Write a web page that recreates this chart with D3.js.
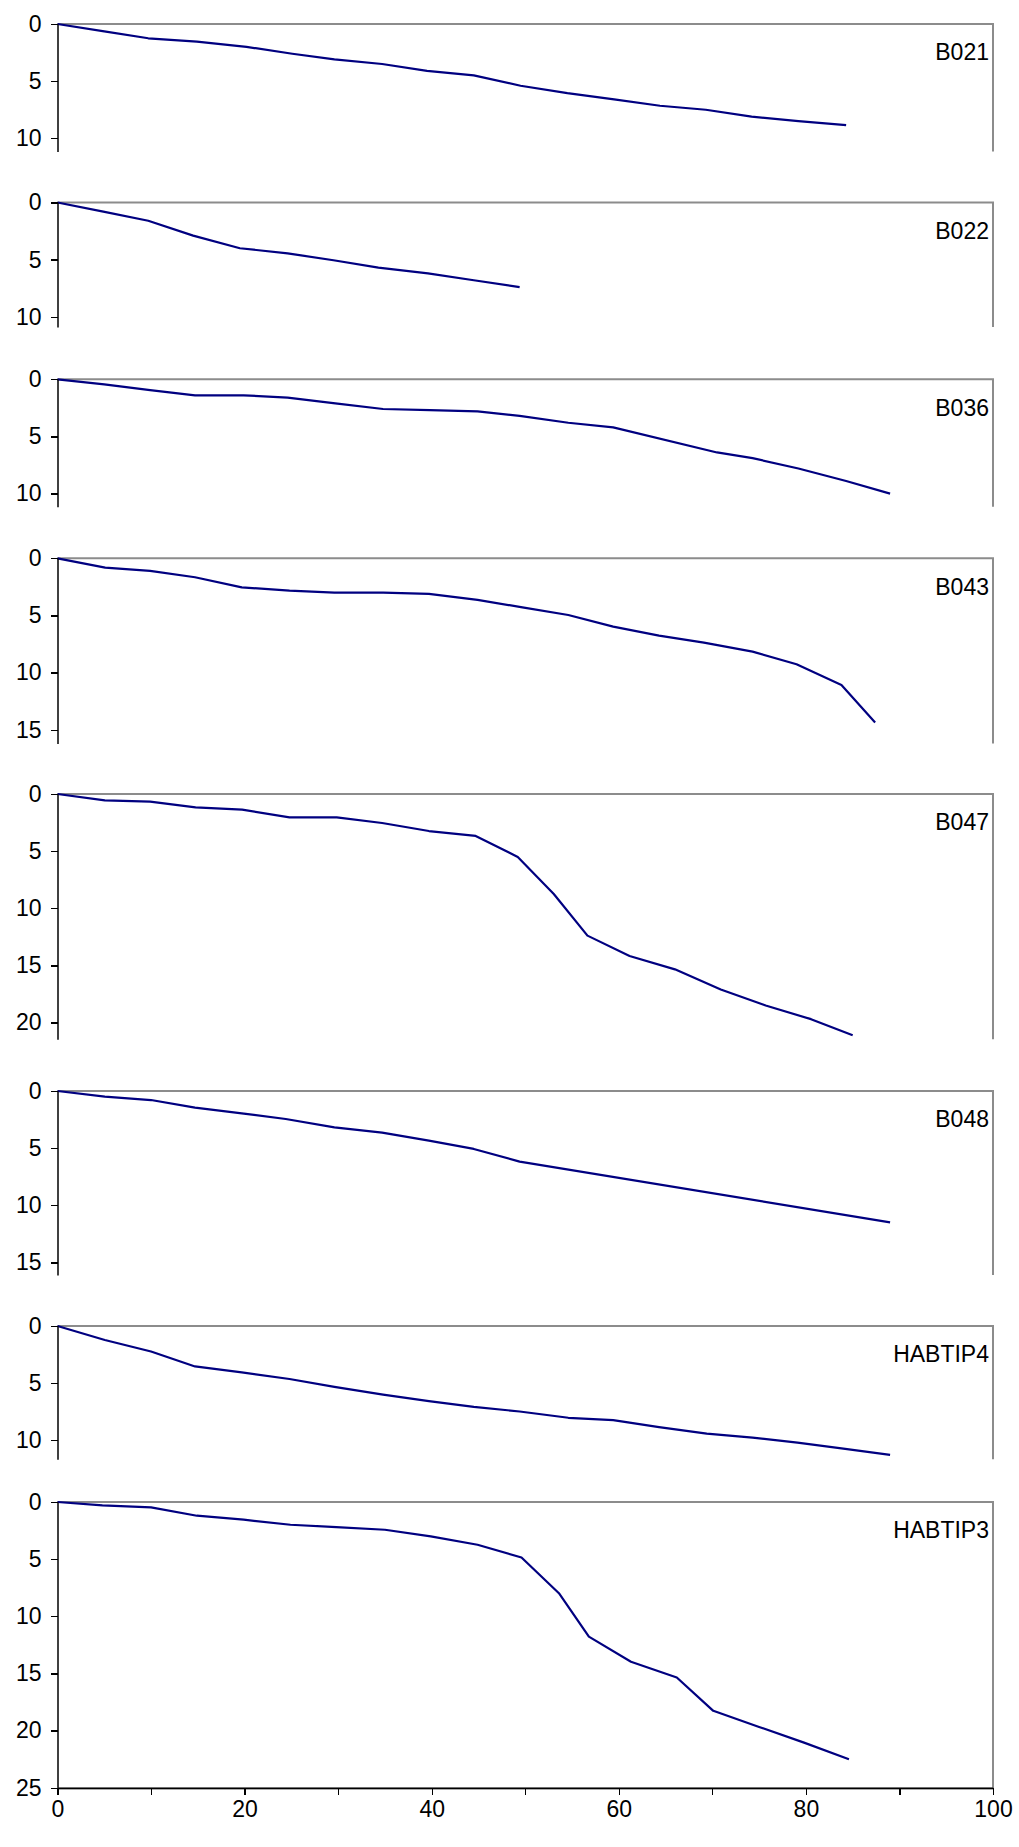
<!DOCTYPE html>
<meta charset="utf-8">
<style type="text/css">
  body {
    margin: 0;
    background: #fff;
    font-family: "Liberation Sans", Arial, sans-serif;
  }

  .y.axis .domain {
    stroke: #000;
    stroke-width: 1.5px;
  }

  .axis line {
    stroke: #000;
    stroke-width: 1.3px;
    shape-rendering: crispEdges;
  }

  .axis text {
    font-family: "Liberation Sans", Arial, sans-serif;
    font-size: 23px;
    fill: #000;
  }

  .x.axis .domain {
    stroke: #000;
    stroke-width: 1.5px;
  }

  .frame {
    stroke: #8c8c8c;
    stroke-width: 2px;
    fill: none;
  }

  .line {
    stroke: #000080;
    stroke-width: 2.2px;
    fill: none;
    stroke-linejoin: round;
  }

  .panel-label {
    font-family: "Liberation Sans", Arial, sans-serif;
    font-size: 23px;
    fill: #000;
  }
</style>

<body>
<div class="g-chart"></div>
</body>

<script src="https://d3js.org/d3.v7.min.js"></script>

<script>
  //series names, top to bottom
  var names = ["B021", "B022", "B036", "B043", "B047", "B048", "HABTIP4", "HABTIP3"];

  //x values (percent) and y values for every series
  var b021X = [0, 5, 9.7, 14.9, 20.2, 25.1, 29.6, 34.7, 39.5, 44.5, 49.5, 54.5, 59.5, 64.4, 69.3, 74.2, 79.2, 84.3];
  var b021Y = [0, 0.65, 1.25, 1.55, 2.0, 2.6, 3.1, 3.5, 4.1, 4.5, 5.4, 6.05, 6.6, 7.15, 7.5, 8.1, 8.5, 8.85];

  var b022X = [0, 4.9, 9.7, 14.5, 19.5, 24.6, 29.5, 34.3, 39.6, 44.5, 49.4];
  var b022Y = [0, 0.8, 1.6, 2.9, 4.0, 4.45, 5.05, 5.7, 6.2, 6.8, 7.4];

  var b036X = [0, 5, 9.9, 14.7, 19.9, 24.6, 29.7, 34.8, 39.8, 44.9, 49.4, 54.6, 59.4, 70.5, 74.3, 79.2, 84.3, 89];
  var b036Y = [0, 0.45, 0.95, 1.4, 1.4, 1.6, 2.1, 2.6, 2.7, 2.8, 3.2, 3.8, 4.2, 6.4, 6.9, 7.8, 8.9, 10.0];

  var b043X = [0, 5.1, 9.9, 14.7, 19.7, 24.8, 29.6, 34.8, 39.7, 44.9, 49.7, 54.6, 59.4, 64.3, 69.1, 74.3, 79, 83.8, 87.4];
  var b043Y = [0, 0.82, 1.1, 1.66, 2.54, 2.83, 3.0, 3.0, 3.12, 3.64, 4.29, 4.96, 5.98, 6.76, 7.38, 8.16, 9.27, 11.08, 14.37];

  var b047X = [0, 5.06, 9.9, 14.76, 19.74, 24.8, 29.85, 34.7, 39.7, 44.7, 49.2, 53.05, 56.65, 61.15, 66, 70.9, 75.7, 80.55, 85.0];
  var b047Y = [0, 0.55, 0.67, 1.17, 1.37, 2.04, 2.04, 2.54, 3.24, 3.67, 5.51, 8.75, 12.39, 14.17, 15.34, 17.1, 18.5, 19.7, 21.1];

  var b048X = [0, 5.06, 10, 14.7, 19.7, 24.4, 29.6, 34.7, 39.7, 44.5, 49.4, 89];
  var b048Y = [0, 0.5, 0.79, 1.46, 1.95, 2.45, 3.18, 3.64, 4.34, 5.07, 6.18, 11.49];

  var habtip4X = [0, 5.06, 10, 14.7, 19.7, 24.8, 29.6, 34.8, 39.7, 44.5, 49.4, 54.6, 59.4, 64.3, 69.4, 74.3, 79.1, 83.8, 89];
  var habtip4Y = [0, 1.22, 2.23, 3.54, 4.06, 4.64, 5.33, 6.0, 6.58, 7.07, 7.48, 8.03, 8.23, 8.84, 9.42, 9.77, 10.2, 10.7, 11.28];

  var habtip3X = [0, 4.8, 10, 14.9, 19.9, 24.9, 29.8, 35, 39.9, 44.9, 49.6, 53.6, 56.8, 61.3, 66.2, 70.1, 75, 79.8, 84.6];
  var habtip3Y = [0, 0.29, 0.47, 1.2, 1.55, 1.99, 2.19, 2.43, 3.01, 3.74, 4.85, 7.98, 11.78, 13.98, 15.35, 18.27, 19.68, 21.05, 22.51];

  var seriesX = [b021X, b022X, b036X, b043X, b047X, b048X, habtip4X, habtip3X];
  var seriesY = [b021Y, b022Y, b036Y, b043Y, b047Y, b048Y, habtip4Y, habtip3Y];

  //tick labels
  var yTicks = [
    [0, 5, 10], [0, 5, 10], [0, 5, 10], [0, 5, 10, 15],
    [0, 5, 10, 15, 20], [0, 5, 10, 15], [0, 5, 10], [0, 5, 10, 15, 20, 25]
  ];
  var xTicks = [0, 10, 20, 30, 40, 50, 60, 70, 80, 90, 100];
  var xLabels = [0, 20, 40, 60, 80, 100];

  //Layout: each panel is cut off by the one below it
  var width = 1019, height = 1847;
  var left = 57.5, right = 993;
  var unit = 11.43;                       //px per y unit
  var panelTop = [24, 202.5, 379.3, 558.3, 794, 1091, 1326, 1502];
  var panelSpan = [11.15, 10.9, 11.15, 16.2, 21.45, 16.1, 11.65, 25];

  var svg = d3.select(".g-chart").append("svg")
    .attr("width", width)
    .attr("height", height);

  //shared x scale
  var xScale = d3.scaleLinear()
    .domain([0, 100])
    .range([left, right]);

  names.forEach(function(name, i) {
    var top = panelTop[i];
    var yScale = d3.scaleLinear()
      .domain([0, panelSpan[i]])
      .range([top, top + panelSpan[i] * unit]);

    var g = svg.append("g").attr("class", "panel");

    //plot area border (top and right)
    g.append("path")
      .attr("class", "frame")
      .attr("d", "M" + xScale(0) + "," + yScale(0) + "H" + xScale(100) + "V" + yScale(panelSpan[i]));

    //series line
    var pts = seriesX[i].map(function(x, j) { return [x, seriesY[i][j]]; });
    var line = d3.line()
      .x(function(d) { return xScale(d[0]); })
      .y(function(d) { return yScale(d[1]); });

    g.append("path")
      .datum(pts)
      .attr("class", "line")
      .attr("d", line);

    //y axis
    var yAxis = d3.axisLeft(yScale)
      .tickValues(yTicks[i])
      .tickSize(7)
      .tickSizeOuter(0)
      .tickPadding(9);

    g.append("g")
      .attr("class", "y axis")
      .attr("transform", "translate(" + xScale(0) + ",0)")
      .call(yAxis);

    //series label
    g.append("text")
      .attr("class", "panel-label")
      .attr("x", xScale(100) - 4)
      .attr("y", top + 28)
      .attr("dy", "0.36em")
      .attr("text-anchor", "end")
      .text(name);

    //x axis only under the last panel
    if (i === names.length - 1) {
      var xAxis = d3.axisBottom(xScale)
        .tickValues(xTicks)
        .tickSize(7)
        .tickSizeOuter(0)
        .tickPadding(6)
        .tickFormat(function(d) { return xLabels.indexOf(d) >= 0 ? d : ""; });

      g.append("line")
        .attr("class", "frame")
        .attr("x1", xScale(0))
        .attr("x2", xScale(100))
        .attr("y1", yScale(25) + 1)
        .attr("y2", yScale(25) + 1);

      g.append("g")
        .attr("class", "x axis")
        .attr("transform", "translate(0," + yScale(25) + ")")
        .call(xAxis);
    }
  });
</script>
